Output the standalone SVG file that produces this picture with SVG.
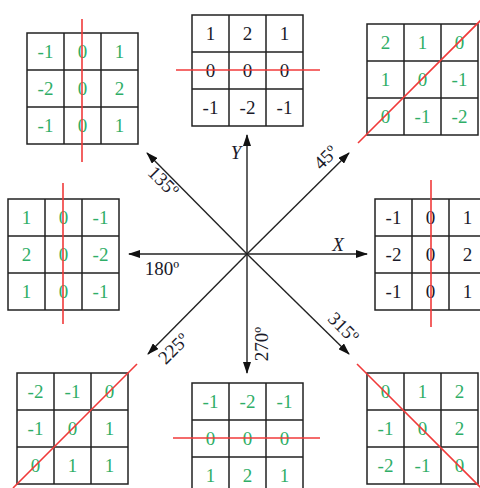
<svg xmlns="http://www.w3.org/2000/svg" width="480" height="488" viewBox="0 0 480 488">
<style>
.cell{fill:#fff;stroke:#222;stroke-width:1.5}
.n{font-family:"Liberation Serif",serif;font-size:19px;text-anchor:middle}
.g{fill:#2fae67}
.d{fill:#1a1a2a}
.red{stroke:#f03a3a;stroke-width:1.6;fill:none}
.ax{stroke:#222;stroke-width:1.4;fill:none;marker-end:url(#ah)}
.lb{font-family:"Liberation Serif",serif;font-size:19px;fill:#1a1a2a;text-anchor:middle}
</style>
<defs>
<marker id="ah" markerWidth="12" markerHeight="8" refX="11" refY="4" orient="auto" markerUnits="userSpaceOnUse">
<path d="M0,0 L12,4 L0,8 Z" fill="#111"/>
</marker>
<g id="grid">
<rect class="cell" x="0" y="0" width="111" height="111"/>
<path d="M37,0V111M74,0V111M0,37H111M0,74H111" stroke="#222" stroke-width="1.5"/>
</g>
</defs>
<rect width="480" height="488" fill="#fff"/>

<g id="k135">
<use href="#grid" x="27" y="33"/>
<g class="n g">
<text x="45.5" y="58">-1</text><text x="82.5" y="58">0</text><text x="119.5" y="58">1</text>
<text x="45.5" y="95">-2</text><text x="82.5" y="95">0</text><text x="119.5" y="95">2</text>
<text x="45.5" y="132">-1</text><text x="82.5" y="132">0</text><text x="119.5" y="132">1</text>
</g>
<line class="red" x1="82" y1="19" x2="82" y2="162"/>
</g>

<g id="k90">
<use href="#grid" x="192" y="15"/>
<g class="n d">
<text x="210.5" y="40">1</text><text x="247.5" y="40">2</text><text x="284.5" y="40">1</text>
<text x="210.5" y="77">0</text><text x="247.5" y="77">0</text><text x="284.5" y="77">0</text>
<text x="210.5" y="114">-1</text><text x="247.5" y="114">-2</text><text x="284.5" y="114">-1</text>
</g>
<line class="red" x1="176" y1="70" x2="320" y2="70"/>
</g>

<g id="k45">
<use href="#grid" x="367" y="24"/>
<g class="n g">
<text x="385.5" y="49">2</text><text x="422.5" y="49">1</text><text x="459.5" y="49">0</text>
<text x="385.5" y="86">1</text><text x="422.5" y="86">0</text><text x="459.5" y="86">-1</text>
<text x="385.5" y="123">0</text><text x="422.5" y="123">-1</text><text x="459.5" y="123">-2</text>
</g>
<line class="red" x1="358" y1="143" x2="481" y2="20"/>
</g>

<g id="k180">
<use href="#grid" x="8" y="199"/>
<g class="n g">
<text x="26.5" y="224">1</text><text x="63.5" y="224">0</text><text x="100.5" y="224">-1</text>
<text x="26.5" y="261">2</text><text x="63.5" y="261">0</text><text x="100.5" y="261">-2</text>
<text x="26.5" y="298">1</text><text x="63.5" y="298">0</text><text x="100.5" y="298">-1</text>
</g>
<line class="red" x1="63" y1="183" x2="63" y2="324"/>
</g>

<g id="k0">
<use href="#grid" x="375" y="199"/>
<g class="n d">
<text x="393.5" y="224">-1</text><text x="430.5" y="224">0</text><text x="467.5" y="224">1</text>
<text x="393.5" y="261">-2</text><text x="430.5" y="261">0</text><text x="467.5" y="261">2</text>
<text x="393.5" y="298">-1</text><text x="430.5" y="298">0</text><text x="467.5" y="298">1</text>
</g>
<line class="red" x1="431" y1="180" x2="431" y2="327"/>
</g>

<g id="k225">
<use href="#grid" x="17" y="373"/>
<g class="n g">
<text x="35.5" y="398">-2</text><text x="72.5" y="398">-1</text><text x="109.5" y="398">0</text>
<text x="35.5" y="435">-1</text><text x="72.5" y="435">0</text><text x="109.5" y="435">1</text>
<text x="35.5" y="472">0</text><text x="72.5" y="472">1</text><text x="109.5" y="472">1</text>
</g>
<line class="red" x1="137" y1="364" x2="13" y2="488"/>
</g>

<g id="k270">
<use href="#grid" x="192" y="383"/>
<g class="n g">
<text x="210.5" y="408">-1</text><text x="247.5" y="408">-2</text><text x="284.5" y="408">-1</text>
<text x="210.5" y="445">0</text><text x="247.5" y="445">0</text><text x="284.5" y="445">0</text>
<text x="210.5" y="482">1</text><text x="247.5" y="482">2</text><text x="284.5" y="482">1</text>
</g>
<line class="red" x1="173" y1="438" x2="320" y2="438"/>
</g>

<g id="k315">
<use href="#grid" x="367" y="373"/>
<g class="n g">
<text x="385.5" y="398">0</text><text x="422.5" y="398">1</text><text x="459.5" y="398">2</text>
<text x="385.5" y="435">-1</text><text x="422.5" y="435">0</text><text x="459.5" y="435">2</text>
<text x="385.5" y="472">-2</text><text x="422.5" y="472">-1</text><text x="459.5" y="472">0</text>
</g>
<line class="red" x1="357" y1="364" x2="481" y2="488"/>
</g>

<g id="connectors">
<line class="ax" x1="247" y1="254" x2="247" y2="135"/>
<line class="ax" x1="247" y1="254" x2="247" y2="373"/>
<line class="ax" x1="247" y1="254" x2="129" y2="254"/>
<line class="ax" x1="247" y1="254" x2="367" y2="254"/>
<line class="ax" x1="247" y1="254" x2="349" y2="153"/>
<line class="ax" x1="247" y1="254" x2="147" y2="153"/>
<line class="ax" x1="247" y1="254" x2="148" y2="354"/>
<line class="ax" x1="247" y1="254" x2="349" y2="354"/>
</g>

<g id="labels">
<text class="lb" x="236" y="159" font-style="italic">Y</text>
<text class="lb" x="338" y="251" font-style="italic">X</text>
<text class="lb" x="162" y="275">180º</text>
<text class="lb" transform="translate(159,186) rotate(45)">135º</text>
<text class="lb" transform="translate(330,162) rotate(-45)">45º</text>
<text class="lb" transform="translate(178,353) rotate(-45)">225º</text>
<text class="lb" transform="translate(268,344) rotate(-90)">270º</text>
<text class="lb" transform="translate(339,332) rotate(45)">315º</text>
</g>
</svg>
